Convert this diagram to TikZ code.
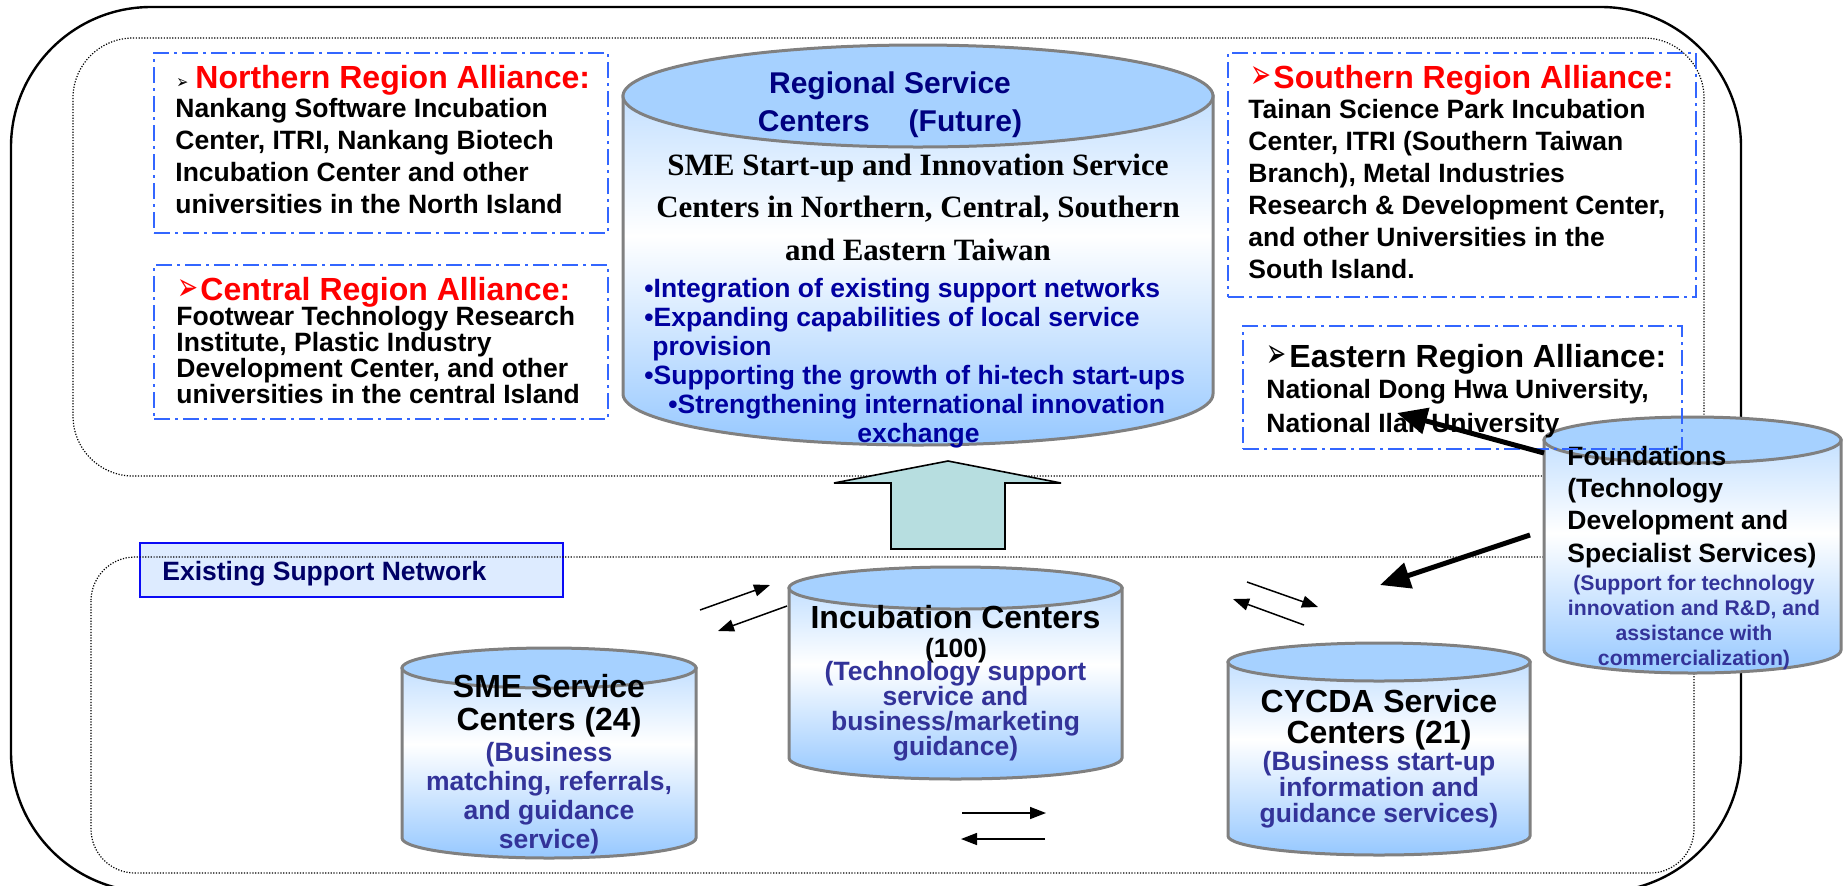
\documentclass[tikz,border=0pt]{standalone}
\usepackage{fontspec}
\usepackage{graphicx}
\setmainfont{Liberation Sans}
\newfontfamily\serifbold{Liberation Serif}
\newfontfamily\dingfont{DejaVu Sans}
\usetikzlibrary{arrows.meta}

\definecolor{allyblue}{RGB}{51,102,255}
\definecolor{headnavy}{RGB}{0,0,128}
\definecolor{aimnavy}{RGB}{0,0,160}
\definecolor{netnavy}{RGB}{0,0,102}
\definecolor{notecol}{RGB}{51,51,153}
\definecolor{drumcap}{RGB}{166,209,255}
\definecolor{drumlite}{RGB}{196,224,255}
\definecolor{drumdeep}{RGB}{150,200,255}
\definecolor{drumedge}{RGB}{128,128,128}
\definecolor{upfill}{RGB}{183,222,224}
\definecolor{netfill}{RGB}{221,235,255}
\definecolor{netedge}{RGB}{10,10,245}

\pgfdeclareverticalshading{drumshade}{100bp}{color(0bp)=(drumdeep); color(25bp)=(drumdeep); color(55bp)=(white); color(75bp)=(drumlite); color(100bp)=(drumlite)}

\newcommand{\pointer}[2]{\resizebox{#1}{#2}{\dingfont ➢}}

% cx, y of top centre, y of bottom centre, x radius, y radius (pixels)
\newcommand{\drum}[5]{%
  \shadedraw[shading=drumshade, draw=drumedge, line width=1.5pt]
    (#1-#4,#2) -- (#1-#4,#3) arc[start angle=180, end angle=360, x radius=#4*0.5pt, y radius=#5*0.5pt] -- (#1+#4,#2) -- cycle;
  \filldraw[fill=drumcap, draw=drumedge, line width=1.5pt] (#1,#2) ellipse [x radius=#4*0.5pt, y radius=#5*0.5pt];
}

\begin{document}
\begin{tikzpicture}[x=0.5pt, y=-0.5pt,
  every node/.style={inner sep=0pt},
  frame/.style={draw=black, line width=1.2pt, rounded corners=70pt},
  dotbox/.style={draw=black, line width=0.6pt, dash pattern=on 0.6pt off 0.8pt},
  allybox/.style={draw=allyblue, line width=1pt, dash pattern=on 8pt off 2.5pt on 1.5pt off 2.5pt},
  headtext/.style={font=\bfseries\fontsize{16}{19}\selectfont, anchor=base west},
  bodytext/.style={font=\bfseries\fontsize{13.25}{#1}\selectfont, align=left, anchor=base west},
  drumhead/.style={font=\bfseries\fontsize{16}{#1}\selectfont, align=center, anchor=base},
  drumnote/.style={font=\bfseries\fontsize{13.25}{#1}\selectfont, text=notecol, align=center, anchor=base},
  twoway/.style={-{Triangle[length=8pt,width=6pt]}, line width=0.75pt},
  feed/.style={-{Triangle[length=15pt,width=13pt]}, line width=2.5pt}]
\useasboundingbox (0,0) rectangle (1843,885);
\clip (0,0) rectangle (1843,885);

\draw[frame] (11,7) rectangle (1741,892);
\draw[dotbox, rounded corners=30pt] (73,38) rectangle (1704,476);

\node (net) [draw=netedge, fill=netfill, line width=1pt, minimum width=211.5pt, minimum height=27pt] at (351.5,570) {};
\node (netText) [font=\bfseries\fontsize{13.25}{15}\selectfont, text=netnavy, anchor=base west] at (162,580) {Existing Support Network};
\draw[dotbox, rounded corners=22pt] (91,557) rectangle (1694,873);

\node (north) [allybox, minimum width=227pt, minimum height=90pt] at (381,143) {};
\node (northHead) [headtext, text=red] at (176,88) {\textcolor{black}{\pointer{6pt}{5pt}}\hspace{3.5pt}Northern Region Alliance:};
\node (northText) [bodytext=15.85] at (175,213) {Nankang Software Incubation\\Center, ITRI, Nankang Biotech\\Incubation Center and other\\universities in the North Island};

\node (central) [allybox, minimum width=227pt, minimum height=77pt] at (381,342) {};
\node (centralHead) [headtext, text=red] at (177,300) {\pointer{10.5pt}{10.5pt}\hspace{1pt}Central Region Alliance:};
\node (centralText) [bodytext=12.85] at (176,403) {Footwear Technology Research\\Institute, Plastic Industry\\Development Center, and other\\universities in the central Island};

\node (south) [allybox, minimum width=234pt, minimum height=122pt] at (1462,175) {};
\node (southHead) [headtext, text=red] at (1250,88) {\pointer{10.5pt}{11pt}\hspace{1pt}Southern Region Alliance:};
\node (southText) [bodytext=16] at (1248,278) {Tainan Science Park Incubation\\Center, ITRI (Southern Taiwan\\Branch), Metal Industries\\Research \& Development Center,\\and other Universities in the\\South Island.};

\drum{918}{96}{394}{295}{51}
\node (regHead) [font=\bfseries\fontsize{15}{19}\selectfont, text=headnavy, align=center, anchor=base] at (890,131) {Regional Service\\Centers\hspace{19.5pt}(Future)};
\node (regSme) [font=\serifbold\bfseries\fontsize{15.5}{21.25}\selectfont, align=center, anchor=base] at (918,260) {SME Start-up and Innovation Service\\Centers in Northern, Central, Southern\\and Eastern Taiwan};
\node (regAims) [font=\bfseries\fontsize{13.25}{14.5}\selectfont, text=aimnavy, align=left, anchor=base west] at (644,442) {•Integration of existing support networks\\•Expanding capabilities of local service\\\hspace*{4pt}provision\\•Supporting the growth of hi-tech start-ups\\\hspace*{12pt}•Strengthening international innovation\\\hspace*{106.5pt}exchange};

\filldraw[fill=upfill, draw=black, line width=0.8pt] (891,549) -- (891,483) -- (834,483) -- (948,461) -- (1061,483) -- (1005,483) -- (1005,549) -- cycle;

\drum{549}{668}{838}{147}{20}
\node (smeHead) [drumhead=16.5] at (549,730) {SME Service\\Centers (24)};
\node (smeNote) [drumnote=14.35] at (549,848) {(Business\\matching, referrals,\\and guidance\\service)};

\drum{955.5}{588}{758}{166.5}{21}
\node (incHead) [drumhead=16.5] at (955.5,628) {Incubation Centers};
\node (incNum) [font=\bfseries\fontsize{13.25}{14}\selectfont, anchor=base] at (956,657) {(100)};
\node (incNote) [drumnote=12.5] at (955.5,755) {(Technology support\\service and\\business/marketing\\guidance)};

\drum{1379}{662}{836}{151}{19}
\node (cycHead) [drumhead=15.5] at (1379,743) {CYCDA Service\\Centers (21)};
\node (cycNote) [drumnote=13] at (1379,822) {(Business start-up\\information and\\guidance services)};

\drum{1692.5}{440}{650}{148.5}{23}
\node (fndHead) [bodytext=16.15] at (1567,562) {Foundations\\(Technology\\Development and\\Specialist Services)};
\node (fndNote) [font=\bfseries\fontsize{10.6}{12.5}\selectfont, text=notecol, align=center, anchor=base] at (1694,665) {(Support for technology\\innovation and R\&D, and\\assistance with\\commercialization)};

\node (east) [allybox, minimum width=219.5pt, minimum height=61.5pt] at (1462.5,387.5) {};
\node (eastHead) [headtext] at (1266,367) {\pointer{10pt}{11pt}\hspace{1.5pt}Eastern Region Alliance:};
\node (eastText) [bodytext=17] at (1266,432) {National Dong Hwa University,\\National Ilan University};

\coordinate (fndUp) at (1544,453);
\coordinate (eastIn) at (1397,413);
\coordinate (fndDown) at (1530,535);
\coordinate (netIn) at (1380,585);
\draw[feed] (fndUp) -- (eastIn);
\draw[feed] (fndDown) -- (netIn);

\coordinate (smeOut) at (700,610);
\coordinate (incIn) at (770,585);
\coordinate (incOut) at (787,606);
\coordinate (smeIn) at (718,631);
\draw[twoway] (smeOut) -- (incIn);
\draw[twoway] (incOut) -- (smeIn);

\coordinate (incOutR) at (1247,582);
\coordinate (cycIn) at (1318,607);
\coordinate (cycOut) at (1304,625);
\coordinate (incInR) at (1233,599);
\draw[twoway] (incOutR) -- (cycIn);
\draw[twoway] (cycOut) -- (incInR);

\coordinate (smeOutB) at (962,813);
\coordinate (cycInB) at (1046,813);
\coordinate (cycOutB) at (1045,839);
\coordinate (smeInB) at (961,839);
\draw[twoway] (smeOutB) -- (cycInB);
\draw[twoway] (cycOutB) -- (smeInB);
\end{tikzpicture}
\end{document}
